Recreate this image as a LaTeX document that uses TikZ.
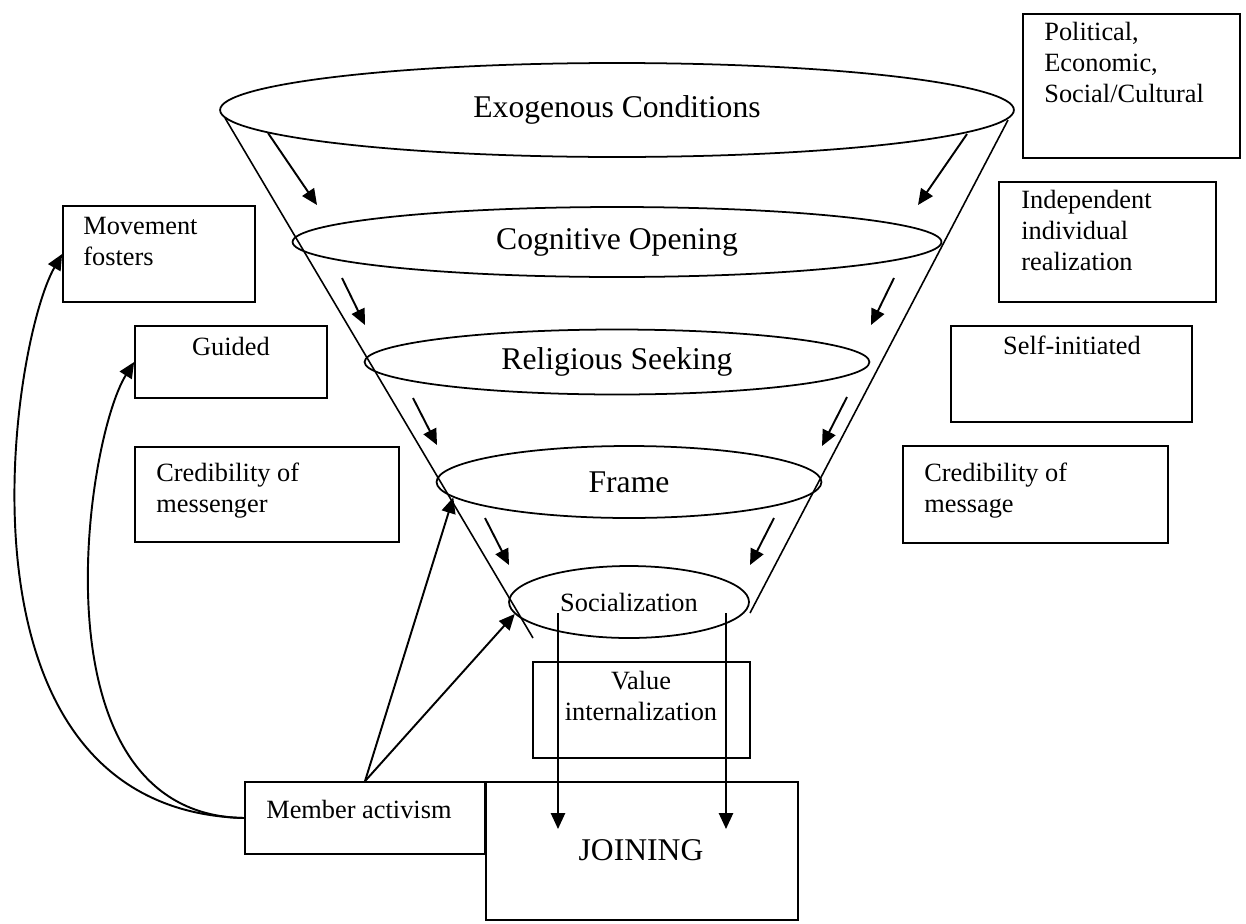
\documentclass[tikz,border=0pt]{standalone}
\usepackage{fontspec}
\setmainfont{Liberation Serif}
\usetikzlibrary{arrows.meta,fit,shapes.geometric}

\begin{document}
\begin{tikzpicture}[x=0.02cm,y=-0.02cm,
    stage/.style={draw,ellipse,line width=1pt,inner sep=0pt,font=\fontsize{18}{21}\selectfont},
    box/.style={draw,rectangle,line width=1pt,inner sep=0pt},
    txt/.style={inner sep=0pt,align=left,font=\fontsize{15}{17.5}\selectfont},
    flow/.style={line width=1.1pt,-{Triangle[length=9pt,width=8pt]}}]
    \useasboundingbox (0,0) rectangle (1246,923);

    %funnel stages
    \node[stage,minimum width=15.88cm,minimum height=1.88cm] (exo) at (617,110) {Exogenous Conditions};
    \node[stage,minimum width=12.98cm,minimum height=1.40cm] (cog) at (617,242) {Cognitive Opening};
    \node[stage,minimum width=10.10cm,minimum height=1.30cm] (rel) at (617,362) {Religious Seeking};
    \node[stage,minimum width=7.70cm,minimum height=1.44cm] (frm) at (629,482) {Frame};
    \node[stage,minimum width=4.80cm,minimum height=1.44cm,font=\fontsize{15}{17.5}\selectfont] (soc) at (629,602) {Socialization};

    %funnel sides
    \coordinate (lefttop) at (225,118);
    \coordinate (leftend) at (533,638);
    \coordinate (righttop) at (1008,120);
    \coordinate (rightend) at (750,613);
    \draw[line width=0.9pt] (lefttop) -- (leftend);
    \draw[line width=0.9pt] (righttop) -- (rightend);

    %arrows down the funnel
    \foreach \st/\ox/\oy/\dx/\dy in {exo/-349/23/49/72, cog/-275/36/23/47, rel/-204/36/24/47, frm/-144/36/24/47,
        exo/350/24/-49/71, cog/277/36/-23/47, rel/230/35/-25/49, frm/145/36/-24/47}
        \draw[flow] (\st.center) ++(\ox,\oy) -- ++(\dx,\dy);

    %right boxes (text sits on the baseline of its last line)
    \node[box,fit={(1023,14) (1240,158)}] (pol) {};
    \node[txt,anchor=base west] (poltxt) at (1044,102) {Political,\\Economic,\\Social/Cultural};
    \node[box,fit={(999,182) (1216,302)}] (ind) {};
    \node[txt,anchor=base west] (indtxt) at (1021,270) {Independent\\individual\\realization};
    \node[box,fit={(951,326) (1192,422)}] (self) {};
    \node[txt,anchor=base] (selftxt) at (1072,354) {Self-initiated};
    \node[box,fit={(903,446) (1168,543)}] (msg) {};
    \node[txt,anchor=base west] (msgtxt) at (924,512) {Credibility of\\message};

    %left boxes
    \node[box,fit={(63,206) (255,302)}] (mov) {};
    \node[txt,anchor=base west] (movtxt) at (83,265) {Movement\\fosters};
    \node[box,fit={(135,326) (327,398)}] (gui) {};
    \node[txt,anchor=base] (guitxt) at (231,355) {Guided};
    \node[box,fit={(135,447) (399,542)}] (mgr) {};
    \node[txt,anchor=base west] (mgrtxt) at (156,512) {Credibility of\\messenger};

    %bottom boxes
    \node[box,fit={(533,662) (750,758)}] (val) {};
    \node[txt,align=center,anchor=base] (valtxt) at (641,720) {Value\\internalization};
    \node[box,fit={(245,782) (485,854)}] (mem) {};
    \node[txt,anchor=base west] (memtxt) at (266,818) {Member activism};
    \node[box,fit={(486,782) (798,920)}] (join) {};
    \node[inner sep=0pt,anchor=base,font=\fontsize{18}{21}\selectfont] (jointxt) at (641,860) {JOINING};

    %member activism feeds back
    \draw[flow] (mem.north) -- (frm.185);
    \draw[flow] (mem.north) -- (soc.186);
    \draw[flow] (mem.west) .. controls (-60,810) and (10,345) .. (mov.west);
    \draw[flow] (mem.west) .. controls (30,815) and (85,440) .. (gui.west);

    %socialization into joining
    \draw[flow] (soc.center) ++(-71,11) -- ++(0,216);
    \draw[flow] (soc.center) ++(97,11) -- ++(0,216);
\end{tikzpicture}
\end{document}
